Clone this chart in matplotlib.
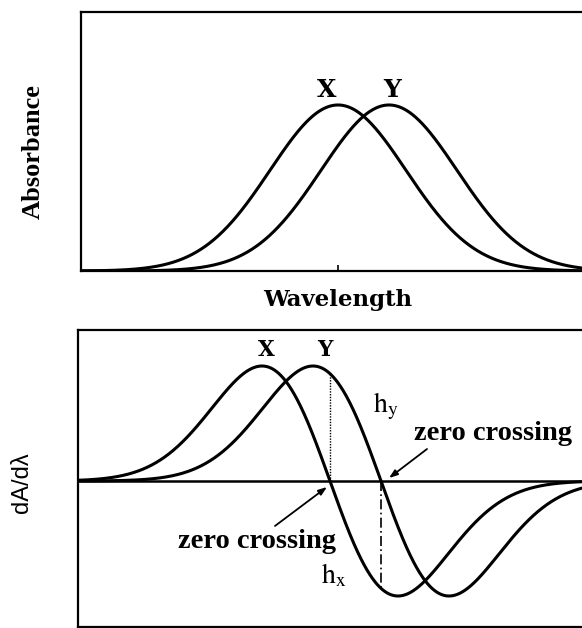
import numpy as np
import matplotlib
matplotlib.use("Agg")
import matplotlib.pyplot as plt

plt.rcParams['mathtext.fontset'] = 'stix'

# ---- data (arbitrary wavelength units) ----
peak_labels = ['X', 'Y']
peak_centers = [257.0, 308.0]     # band maxima positions
band_sigma = [68.0, 68.0]         # Gaussian band widths
peak_heights = [1.0, 1.0]         # relative absorbance at the maxima
wavelength = np.linspace(0.0, 520.0, 1041)

# absorbance bands and their first derivatives
absorb = [h * np.exp(-(wavelength - c) ** 2 / (2 * s ** 2))
          for c, s, h in zip(peak_centers, band_sigma, peak_heights)]
deriv = [np.gradient(a, wavelength) for a in absorb]
dnorm = max(np.abs(d).max() for d in deriv)
deriv = [d / dnorm for d in deriv]

W, H = 582, 628
fig = plt.figure(figsize=(W / 100, H / 100), dpi=100)
fig.patch.set_facecolor('white')

lw = 2.2
serif_b = dict(family='DejaVu Serif', weight='bold')

# ---------------- top panel ----------------
axt = fig.add_axes([81 / W, 1 - 271 / H, (W - 81) / W + 0.01, (271 - 12) / H])
for a in absorb:
    axt.plot(wavelength, a, color='black', lw=lw)
axt.set_xlim(0, 501 + 0.01 * W)
axt.set_ylim(0, 1.56)
axt.set_xticks([peak_centers[0]])
axt.set_xticklabels([])
axt.tick_params(axis='x', direction='in', length=4, width=1.2)
axt.set_yticks([])
axt.spines['right'].set_visible(False)
for sp in ['left', 'top', 'bottom']:
    axt.spines[sp].set_linewidth(1.6)
axt.text(246, 1.09, peak_labels[0], ha='center', va='center', fontsize=18, **serif_b)
axt.text(311, 1.09, peak_labels[1], ha='center', va='center', fontsize=18, **serif_b)

fig.text(33 / W, 1 - 152 / H, 'Absorbance', rotation=90, ha='center', va='center',
         fontsize=19, family='Liberation Serif', weight='bold')
fig.text(338 / W, 1 - 300 / H, 'Wavelength', ha='center', va='center',
         fontsize=16.5, **serif_b)

# ---------------- bottom panel ----------------
axb = fig.add_axes([78 / W, 1 - 627 / H, (W - 78) / W + 0.01, (627 - 330) / H])
for d in deriv:
    axb.plot(wavelength, d, color='black', lw=lw)
axb.axhline(0, color='black', lw=1.8)
axb.set_xlim(5, 509 + 0.01 * W)
axb.set_ylim(-(627 - 481) / 115, (481 - 330) / 115)
axb.set_xticks([])
axb.set_yticks([])
axb.spines['right'].set_visible(False)
for sp in ['left', 'top', 'bottom']:
    axb.spines[sp].set_linewidth(1.6)

# zero crossings (where each derivative changes sign) and heights of the other band there
zc = []
for d in deriv:
    i = np.where((d[:-1] > 0) & (d[1:] <= 0))[0][0]
    zc.append(wavelength[i] + (wavelength[i + 1] - wavelength[i]) * d[i] / (d[i] - d[i + 1]))
hy = np.interp(zc[0], wavelength, deriv[1])
hx = np.interp(zc[1], wavelength, deriv[0])
axb.plot([zc[0], zc[0]], [0, hy], color='black', lw=1.0, ls=(0, (1, 1)))
axb.plot([zc[1], zc[1]], [0, hx], color='black', lw=1.2, ls=(0, (6, 2, 1, 2)))

axb.text(193, 1.139, peak_labels[0], ha='center', va='center', fontsize=15.5, **serif_b)
axb.text(252, 1.139, peak_labels[1], ha='center', va='center', fontsize=15.5, **serif_b)

axb.text(300, 0.60, r'$\mathrm{h_y}$', ha='left', va='baseline', fontsize=20)
axb.text(248, -0.887, r'$\mathrm{h_x}$', ha='left', va='baseline', fontsize=20)

axb.text(420, 0.357, 'zero crossing', ha='center', va='baseline', fontsize=20.5,
         family='Liberation Serif', weight='bold')
axb.text(184, -0.583, 'zero crossing', ha='center', va='baseline', fontsize=20.5,
         family='Liberation Serif', weight='bold')

arrow = dict(arrowstyle='-|>,head_length=0.5,head_width=0.18', color='black', lw=1.3,
             shrinkA=0, shrinkB=0)
axb.annotate('', xy=(254, -0.052), xytext=(202, -0.391), arrowprops=arrow)
axb.annotate('', xy=(316, 0.026), xytext=(354, 0.278), arrowprops=arrow)

fig.text(22 / W, 1 - 483 / H, 'dA/dλ', rotation=90, ha='center', va='center',
         fontsize=17, family='Liberation Sans')

fig.savefig('out.png', dpi=100, facecolor='white')
